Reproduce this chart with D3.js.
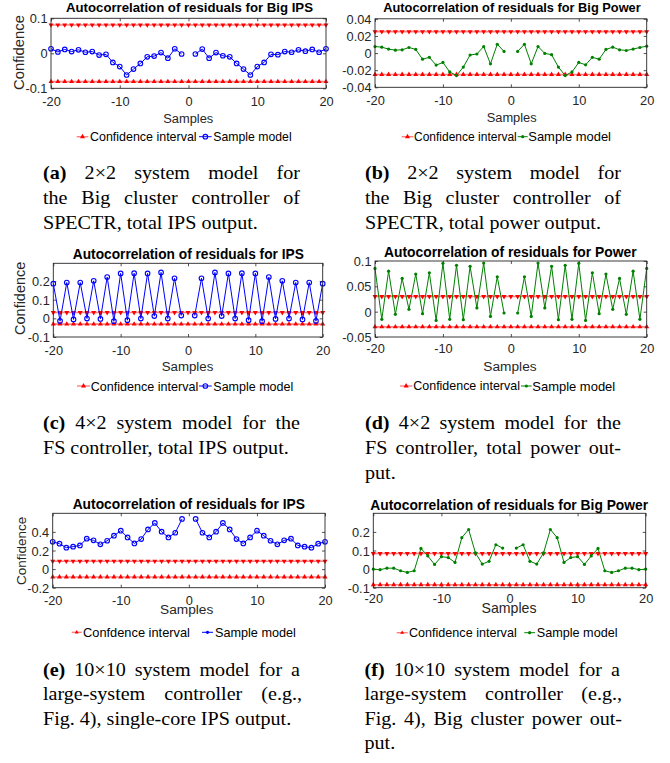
<!DOCTYPE html>
<html><head><meta charset="utf-8">
<script src="https://cdn.jsdelivr.net/npm/d3@7"></script>
<style>body{margin:0;background:#fff}svg{display:block}</style>
</head><body>
<svg id="c" width="670" height="763"></svg>
<script>
// ---------------- DATA ----------------
const lags = [-20,-19,-18,-17,-16,-15,-14,-13,-12,-11,-10,-9,-8,-7,-6,-5,-4,-3,-2,-1,
              1,2,3,4,5,6,7,8,9,10,11,12,13,14,15,16,17,18,19,20];
const confLags = [-20,-19,-18,-17,-16,-15,-14,-13,-12,-11,-10,-9,-8,-7,-6,-5,-4,-3,-2,-1,0,
                  1,2,3,4,5,6,7,8,9,10,11,12,13,14,15,16,17,18,19,20];
const xTicks = [-20,-10,0,10,20];

const valuesA = [0.013,0.004,0.011,0.005,0.010,0.003,0.005,-0.005,-0.003,-0.026,-0.038,-0.062,-0.045,-0.029,-0.010,-0.008,0.002,-0.014,0.013,-0.002,
                 -0.002,0.012,-0.014,0.002,-0.007,-0.010,-0.029,-0.045,-0.062,-0.038,-0.026,-0.003,-0.004,0.005,0.003,0.010,0.006,0.011,0.003,0.013];
const valuesB = [0.0076,0.0069,0.0046,0.0034,0.0038,0.0065,0.0042,-0.0072,-0.0050,-0.0141,-0.0110,-0.0221,-0.0263,-0.0164,-0.0023,-0.0011,0.0076,-0.0126,0.0103,0.0019,
                 0.0019,0.0103,-0.0126,0.0076,-0.0004,-0.0019,-0.0164,-0.0263,-0.0221,-0.0110,-0.0137,-0.0050,-0.0072,0.0042,0.0069,0.0038,0.0030,0.0046,0.0065,0.0080];
const valuesC = [0.186,-0.014,0.192,-0.006,0.192,-0.001,0.201,-0.003,0.221,-0.015,0.241,-0.010,0.242,-0.001,0.241,0.012,0.246,-0.001,0.215,0.015,
                 0.015,0.215,-0.001,0.246,0.012,0.241,-0.001,0.242,-0.010,0.241,-0.015,0.221,-0.003,0.201,-0.001,0.192,-0.006,0.192,-0.014,0.186];
const valuesD = [0.0854,-0.0152,0.0800,-0.0053,0.0656,0.0046,0.0742,-0.0040,0.0768,-0.0172,0.0954,-0.0152,0.0914,-0.0159,0.0894,0.0073,0.0960,-0.0093,0.0689,-0.0026,
                 -0.0026,0.0689,-0.0093,0.0960,0.0073,0.0894,-0.0159,0.0914,-0.0152,0.0954,-0.0172,0.0768,-0.0040,0.0742,0.0046,0.0656,-0.0053,0.0800,-0.0152,0.0854];
const valuesE = [0.294,0.273,0.230,0.241,0.255,0.327,0.309,0.266,0.305,0.359,0.413,0.341,0.276,0.323,0.427,0.496,0.402,0.341,0.391,0.539,
                 0.539,0.391,0.341,0.402,0.496,0.427,0.323,0.276,0.341,0.413,0.359,0.305,0.266,0.309,0.327,0.255,0.241,0.230,0.273,0.294];
const valuesF = [0.000,-0.003,0.005,0.005,-0.009,-0.018,-0.009,0.111,0.071,0.025,0.067,0.062,0.036,0.169,0.213,0.087,0.027,0.042,0.131,0.113,
                 0.113,0.131,0.042,0.027,0.087,0.213,0.169,0.036,0.062,0.067,0.025,0.071,0.111,-0.009,-0.018,-0.009,0.005,0.005,-0.003,0.000];

const confA = 0.081, confB = 0.025, confC = 0.031, confD = 0.030, confE = 0.085, confF = 0.084;

const yDomainA = [-0.1, 0.1],  yTicksA = [-0.1, 0, 0.1];
const yDomainB = [-0.04, 0.04], yTicksB = [-0.04, -0.02, 0, 0.02, 0.04];
const yDomainC = [-0.1, 0.295], yTicksC = [-0.1, 0, 0.1, 0.2];
const yDomainD = [-0.05, 0.1], yTicksD = [-0.05, 0, 0.05, 0.1];
const yDomainE = [-0.2, 0.6],  yTicksE = [-0.2, 0, 0.2, 0.4];
const yDomainF = [-0.1, 0.3],  yTicksF = [-0.1, 0, 0.1, 0.2];

const titleA = "Autocorrelation of residuals for Big IPS";
const titleB = "Autocorrelation of residuals for Big Power";
const titleC = "Autocorrelation of residuals for IPS";
const titleD = "Autocorrelation of residuals for Power";
const titleE = "Autocorrelation of residuals for IPS";
const titleF = "Autocorrelation of residuals for Big Power";
const xLabel = "Samples", yLabel = "Confidence";
const legendA = ["Confidence interval", "Sample model"];
const legendE = ["Confdence interval", "Sample model"];

const captionA = ["(a) 2×2 system model for", "the Big cluster controller of", "SPECTR, total IPS output."];
const captionB = ["(b) 2×2 system model for", "the Big cluster controller of", "SPECTR, total power output."];
const captionC = ["(c) 4×2 system model for the", "FS controller, total IPS output."];
const captionD = ["(d) 4×2 system model for the", "FS controller, total power out-", "put."];
const captionE = ["(e) 10×10 system model for a", "large-system controller (e.g.,", "Fig. 4), single-core IPS output."];
const captionF = ["(f) 10×10 system model for a", "large-system controller (e.g.,", "Fig. 4), Big cluster power out-", "put."];

// ---------------- LAYOUT ----------------
const SANS = "'Liberation Sans', Arial, Helvetica, sans-serif";
const SERIF = "'Liberation Serif', 'Times New Roman', serif";
const AX = "#262626";
const BLUE = "#0000ff", GREEN = "#008000", RED = "#ff0000";

const panels = [
  {vals:valuesA, conf:confA, yDomain:yDomainA, yTicks:yTicksA, title:titleA, legend:legendA, color:BLUE, mk:"o",
   l:51, r:326, t:18.3, b:88.3, ti:{cx:189.5, cy:7.5, w:247}, xt:101.7, xl:{cx:188.3, cy:118, w:50},
   yl:{x:24, cy:52.5, len:75}, lg:{cy:136.7, r0:76.7, r1:88.3, t1:90, w1:106.7, s0:199, s1:211.7, t2:213.3, w2:78.3}, clip:false},
  {vals:valuesB, conf:confB, yDomain:yDomainB, yTicks:yTicksB, title:titleB, legend:legendA, color:GREEN, mk:".",
   l:375, r:646.7, t:18.8, b:87.3, ti:{cx:512, cy:7.5, w:257.7}, xt:100, xl:{cx:511.7, cy:117.3, w:50},
   yl:{x:343.3, cy:50.8, len:75}, lg:{cy:136.7, r0:401.7, r1:413.3, t1:414, w1:102.7, s0:517.7, s1:527.7, t2:528.3, w2:82.7}, clip:true},
  {vals:valuesC, conf:confC, yDomain:yDomainC, yTicks:yTicksC, title:titleC, legend:legendA, color:BLUE, mk:"o",
   l:53.3, r:322.7, t:263.3, b:337, ti:{cx:188.3, cy:254, w:231}, xt:350, xl:{cx:187.5, cy:366, w:51.7},
   yl:{x:25, cy:298.3, len:73.3}, lg:{cy:386, r0:77, r1:90, t1:90.7, w1:107.6, s0:199, s1:211.7, t2:213.3, w2:80}, clip:false},
  {vals:valuesD, conf:confD, yDomain:yDomainD, yTicks:yTicksD, title:titleD, legend:legendA, color:GREEN, mk:".",
   l:375, r:646.7, t:261, b:337, ti:{cx:510.3, cy:252.3, w:252.7}, xt:348.3, xl:{cx:510, cy:366, w:53.3},
   yl:{x:345, cy:300, len:73.3}, lg:{cy:386, r0:400, r1:412.3, t1:413.3, w1:106.7, s0:521, s1:531.7, t2:532.3, w2:83}, clip:true},
  {vals:valuesE, conf:confE, yDomain:yDomainE, yTicks:yTicksE, title:titleE, legend:legendE, color:BLUE, mk:"o",
   l:52.7, r:325, t:513.3, b:587.7, ti:{cx:188.8, cy:504.3, w:232.3}, xt:600, xl:{cx:186.7, cy:609, w:53.3},
   yl:{x:26, cy:550.8, len:68.3}, lg:{cy:632.3, r0:71.7, r1:81.7, t1:83, w1:107, s0:202, s1:213, t2:215, w2:81}, clip:false, smallLg:true},
  {vals:valuesF, conf:confF, yDomain:yDomainF, yTicks:yTicksF, title:titleF, legend:legendA, color:GREEN, mk:".",
   l:373.3, r:645.7, t:513.3, b:587.7, ti:{cx:509.2, cy:505, w:278}, xt:598.3, xl:{cx:509, cy:608.3, w:55},
   yl:{x:344, cy:551.7, len:66.7}, lg:{cy:632.7, r0:396.7, r1:407.7, t1:409, w1:107.7, s0:524.3, s1:535, t2:536.7, w2:81}, clip:true, smallLg:true}
];

const captions = [
  {lines:captionA, x:43,    ends:[300,300], base:[179.5,204.5,229.5]},
  {lines:captionB, x:365,   ends:[621,621], base:[179.5,204.5,229.5]},
  {lines:captionC, x:43,    ends:[300],     base:[429,454]},
  {lines:captionD, x:365,   ends:[621,621], base:[429,454,479]},
  {lines:captionE, x:43,    ends:[300,302], base:[676,700.5,725]},
  {lines:captionF, x:364.5, ends:[620,622,622], base:[676,700.5,725,749.5]}
];

// ---------------- DRAW ----------------
const svg = d3.select("#c");
svg.append("defs").append("clipPath").attr("id","rightcol")
  .append("rect").attr("x",335).attr("y",0).attr("width",335).attr("height",763);

function fitText(t, w) {
  const len = t.node().getComputedTextLength();
  if (len > 0) { const fs = parseFloat(t.attr("font-size")); t.attr("font-size", (fs * w / len).toFixed(2)); }
  return t;
}

const triUp = d3.symbol(d3.symbolTriangle, 11)();
const fmt = d => String(d);

function drawPanel(p) {
  const x = d3.scaleLinear().domain([-20, 20]).range([p.l, p.r]);
  const y = d3.scaleLinear().domain(p.yDomain).range([p.b, p.t]);
  const g = svg.append("g");
  const tk = 3;

  // tick marks (inward, on all four sides)
  const tickStyle = s => { s.select(".domain").remove(); s.selectAll("line").attr("stroke", AX).attr("stroke-width", 0.8); };
  g.append("g").attr("transform", `translate(0,${p.b})`)
    .call(d3.axisBottom(x).tickValues(xTicks).tickSizeInner(-tk).tickSizeOuter(0).tickFormat("")).call(tickStyle);
  g.append("g").attr("transform", `translate(0,${p.t})`)
    .call(d3.axisTop(x).tickValues(xTicks).tickSizeInner(-tk).tickSizeOuter(0).tickFormat("")).call(tickStyle);
  g.append("g").attr("transform", `translate(${p.l},0)`)
    .call(d3.axisLeft(y).tickValues(p.yTicks).tickSizeInner(-tk).tickSizeOuter(0).tickFormat("")).call(tickStyle);
  g.append("g").attr("transform", `translate(${p.r},0)`)
    .call(d3.axisRight(y).tickValues(p.yTicks).tickSizeInner(-tk).tickSizeOuter(0).tickFormat("")).call(tickStyle);

  // confidence interval lines
  const line = d3.line().x(d => x(d[0])).y(d => y(d[1]));
  [p.conf, -p.conf].forEach((c, k) => {
    const pts = confLags.map(l => [l, c]);
    g.append("path").datum(pts).attr("d", line).attr("fill", "none")
      .attr("stroke", RED).attr("stroke-opacity", 0.5).attr("stroke-width", 1.6);
    g.selectAll(null).data(pts).join("path")
      .attr("d", triUp)
      .attr("transform", d => `translate(${x(d[0])},${y(d[1])}) rotate(${k === 0 ? 180 : 0})`)
      .attr("fill", RED);
  });

  // sample model (lag 0 is not part of the series -> two segments)
  const pts = lags.map((l, i) => [l, p.vals[i]]);
  [pts.filter(d => d[0] < 0), pts.filter(d => d[0] > 0)].forEach(seg => {
    g.append("path").datum(seg).attr("d", line).attr("fill", "none")
      .attr("stroke", p.color).attr("stroke-width", 1);
  });
  if (p.mk === "o") {
    g.selectAll(null).data(pts).join("circle")
      .attr("cx", d => x(d[0])).attr("cy", d => y(d[1])).attr("r", 2.3)
      .attr("fill", "none").attr("stroke", p.color).attr("stroke-width", 1.1);
  } else {
    g.selectAll(null).data(pts).join("circle")
      .attr("cx", d => x(d[0])).attr("cy", d => y(d[1])).attr("r", 1.6)
      .attr("fill", p.color);
  }

  // box
  g.append("rect").attr("x", p.l).attr("y", p.t).attr("width", p.r - p.l).attr("height", p.b - p.t)
    .attr("fill", "none").attr("stroke", AX).attr("stroke-width", 0.9);

  // tick labels
  const xl = g.append("g").attr("transform", `translate(0,${p.b})`)
    .call(d3.axisBottom(x).tickValues(xTicks).tickSize(0).tickFormat(fmt));
  xl.select(".domain").remove();
  xl.selectAll("text").attr("y", p.xt - p.b).attr("dy", "0.36em")
    .attr("font-family", SANS).attr("font-size", 12.8).attr("fill", AX);
  const yl = g.append("g").attr("transform", `translate(${p.l},0)`)
    .call(d3.axisLeft(y).tickValues(p.yTicks).tickSize(0).tickFormat(fmt));
  yl.select(".domain").remove();
  yl.selectAll("text").attr("x", -3.5).attr("dy", "0.36em")
    .attr("font-family", SANS).attr("font-size", 12.8).attr("fill", AX);

  // title
  fitText(g.append("text").attr("x", p.ti.cx).attr("y", p.ti.cy).attr("dy", "0.36em")
    .attr("text-anchor", "middle").attr("font-family", SANS).attr("font-weight", "bold")
    .attr("font-size", 12).attr("fill", "#000").text(p.title), p.ti.w);

  // axis labels
  fitText(g.append("text").attr("x", p.xl.cx).attr("y", p.xl.cy).attr("dy", "0.36em")
    .attr("text-anchor", "middle").attr("font-family", SANS).attr("font-size", 13)
    .attr("fill", AX).text(xLabel), p.xl.w);
  const ylab = g.append("text").attr("transform", `translate(${p.yl.x},${p.yl.cy}) rotate(-90)`)
    .attr("text-anchor", "middle").attr("font-family", SANS).attr("font-size", 14)
    .attr("fill", AX).text(yLabel);
  fitText(ylab, p.yl.len);
  if (p.clip) ylab.attr("clip-path", "url(#rightcol)");

  // legend
  const L = p.lg;
  const lg = g.append("g");
  lg.append("line").attr("x1", L.r0).attr("x2", L.r1).attr("y1", L.cy).attr("y2", L.cy)
    .attr("stroke", RED).attr("stroke-opacity", 0.5).attr("stroke-width", 1.4);
  lg.append("path").attr("d", d3.symbol(d3.symbolTriangle, p.smallLg ? 7 : 11)())
    .attr("transform", `translate(${(L.r0 + L.r1) / 2},${L.cy})`).attr("fill", RED);
  lg.append("line").attr("x1", L.s0).attr("x2", L.s1).attr("y1", L.cy).attr("y2", L.cy)
    .attr("stroke", p.color).attr("stroke-width", 1);
  if (p.mk === "o" && !p.smallLg) {
    lg.append("circle").attr("cx", (L.s0 + L.s1) / 2).attr("cy", L.cy).attr("r", 2.3)
      .attr("fill", "none").attr("stroke", p.color).attr("stroke-width", 1.1);
  } else {
    lg.append("circle").attr("cx", (L.s0 + L.s1) / 2).attr("cy", L.cy).attr("r", 1.6).attr("fill", p.color);
  }
  fitText(lg.append("text").attr("x", L.t1).attr("y", L.cy).attr("dy", "0.36em")
    .attr("font-family", SANS).attr("font-size", 12).attr("fill", "#000").text(p.legend[0]), L.w1);
  fitText(lg.append("text").attr("x", L.t2).attr("y", L.cy).attr("dy", "0.36em")
    .attr("font-family", SANS).attr("font-size", 12).attr("fill", "#000").text(p.legend[1]), L.w2);
}

panels.forEach(drawPanel);

// captions (serif, justified lines)
const capFS = 18;
const probe = svg.append("text").attr("font-family", SERIF).attr("font-size", capFS).text(captionA[2]);
const sx = (258 - 43) / probe.node().getComputedTextLength();
probe.remove();

captions.forEach(c => {
  const g = svg.append("g").attr("transform", `translate(${c.x},0) scale(${sx},1)`);
  c.lines.forEach((ln, i) => {
    const yb = c.base[i];
    const words = ln.split(" ");
    const justify = i < c.lines.length - 1;
    if (justify) {
      const nodes = words.map((w, j) => g.append("text").attr("y", yb)
        .attr("font-family", SERIF).attr("font-size", capFS)
        .attr("font-weight", (i === 0 && j === 0) ? "bold" : "normal").attr("fill", "#000").text(w));
      const widths = nodes.map(n => n.node().getComputedTextLength());
      const target = (c.ends[i] - c.x) / sx;
      const gap = (target - d3.sum(widths)) / (words.length - 1);
      let cx = 0;
      nodes.forEach((n, j) => { n.attr("x", cx); cx += widths[j] + gap; });
    } else {
      g.append("text").attr("x", 0).attr("y", yb).attr("font-family", SERIF)
        .attr("font-size", capFS).attr("fill", "#000").text(ln);
    }
  });
});
</script>
</body></html>
